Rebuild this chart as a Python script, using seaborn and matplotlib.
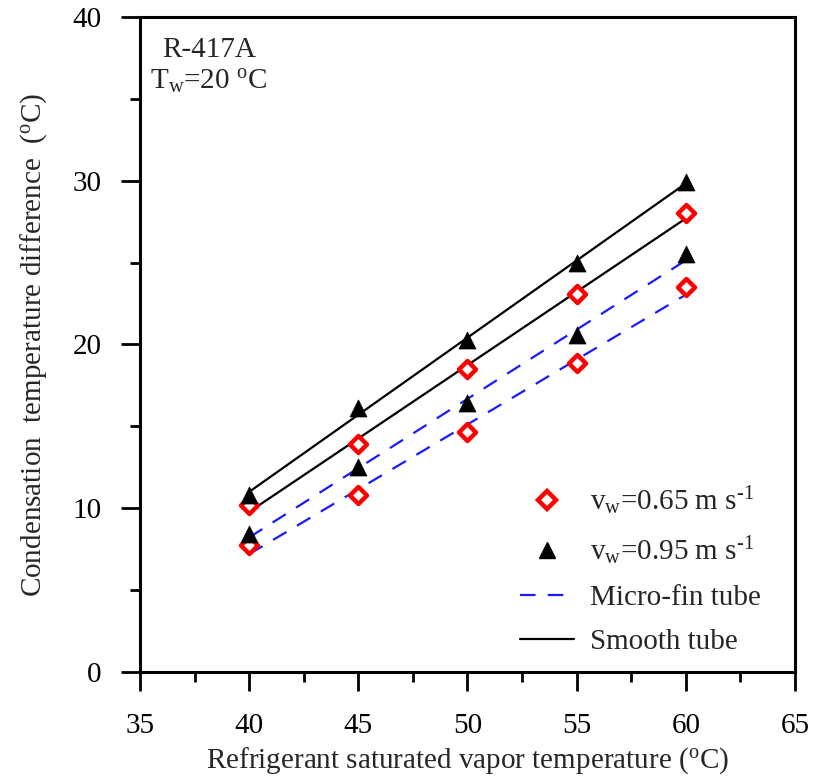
import numpy as np
import pandas as pd
import matplotlib
matplotlib.use("Agg")
import matplotlib.pyplot as plt
from matplotlib.lines import Line2D
from matplotlib.ticker import MultipleLocator
import seaborn as sns

# ---- data ----
temps = [40, 45, 50, 55, 60]
smooth_065 = [10.2, 13.9, 18.5, 23.1, 28.0]
smooth_095 = [10.8, 16.1, 20.3, 25.0, 29.9]
microfin_065 = [7.75, 10.8, 14.65, 18.9, 23.5]
microfin_095 = [8.4, 12.5, 16.4, 20.6, 25.5]

legend_labels = [r"v$_\mathregular{w}$=0.65 m s$^\text{-1}$",
                 r"v$_\mathregular{w}$=0.95 m s$^\text{-1}$",
                 "Micro-fin tube", "Smooth tube"]

BLUE = "#1a1aff"
FS = 21

sns.set_theme(style="ticks")
plt.rcParams["font.family"] = ["Liberation Serif", "DejaVu Serif"]
plt.rcParams["mathtext.fontset"] = "custom"
plt.rcParams["mathtext.rm"] = "Liberation Serif"
plt.rcParams["mathtext.it"] = "Liberation Serif:italic"

fig = plt.figure(figsize=(8.13, 7.8), dpi=100)
ax = fig.add_axes([140 / 813, 108 / 780, 655 / 813, 655 / 780])

# fitted lines
for vals, ls, col in [(smooth_065, "-", "black"), (smooth_095, "-", "black"),
                      (microfin_065, "--", BLUE), (microfin_095, "--", BLUE)]:
    d = pd.DataFrame({"T": temps, "dT": vals})
    kw = dict(color=col, lw=1.6)
    if ls == "--":
        kw["dashes"] = (7, 5.5)
    sns.regplot(data=d, x="T", y="dT", ax=ax, scatter=False, ci=None,
                line_kws=kw, truncate=True)

# markers
for vals in [smooth_065, microfin_065]:
    d = pd.DataFrame({"T": temps, "dT": vals})
    sns.scatterplot(data=d, x="T", y="dT", ax=ax, marker="D", s=75,
                    facecolor="white", edgecolor="red", linewidth=3.2, zorder=5)
for vals in [smooth_095, microfin_095]:
    d = pd.DataFrame({"T": temps, "dT": vals})
    sns.scatterplot(data=d, x="T", y="dT", ax=ax, marker="^", s=150,
                    color="black", edgecolor="black", linewidth=0.5, zorder=5)

ax.set_xlim(35, 65)
ax.set_ylim(0, 40)
ax.xaxis.set_major_locator(MultipleLocator(5))
ax.xaxis.set_minor_locator(MultipleLocator(2.5))
ax.yaxis.set_major_locator(MultipleLocator(10))
ax.yaxis.set_minor_locator(MultipleLocator(5))

for sp in ax.spines.values():
    sp.set_visible(True)
    sp.set_linewidth(2.2)
    sp.set_color("black")

ax.tick_params(axis="both", which="major", direction="out", length=13.5,
               width=2.0, labelsize=FS, colors="black")
ax.tick_params(axis="x", which="major", pad=16)
ax.tick_params(axis="y", which="major", pad=14)
ax.tick_params(axis="both", which="minor", direction="out", length=7,
               width=2.0, colors="black")

ax.set_xlabel(r"Refrigerant saturated vapor temperature ($^\mathregular{o}$C)",
              fontsize=FS, labelpad=4.5)
ax.set_ylabel(r"Condensation  temperature difference  ($^\mathregular{o}$C)",
              fontsize=FS, labelpad=17)

ax.text(0.034, 0.97, "R-417A", transform=ax.transAxes, fontsize=FS,
        ha="left", va="top")
ax.text(0.015, 0.922, r"T$_\mathregular{w}$=20 $^\mathregular{o}$C",
        transform=ax.transAxes, fontsize=FS, ha="left", va="top")

handles = [
    Line2D([], [], ls="none", marker="D", markersize=8.7, markerfacecolor="white",
           markeredgecolor="red", markeredgewidth=3.2),
    Line2D([], [], ls="none", marker="^", markersize=12, color="black"),
    Line2D([], [], color=BLUE, lw=1.6, dashes=(7, 5.5)),
    Line2D([], [], color="black", lw=1.6),
]
leg = ax.legend(handles, legend_labels, loc="upper left",
                bbox_to_anchor=(0.549, 0.318), frameon=False, fontsize=FS,
                handlelength=1.85, handletextpad=0.55, labelspacing=0.6,
                borderpad=0.2)

fig.savefig("out.png", dpi=100)
